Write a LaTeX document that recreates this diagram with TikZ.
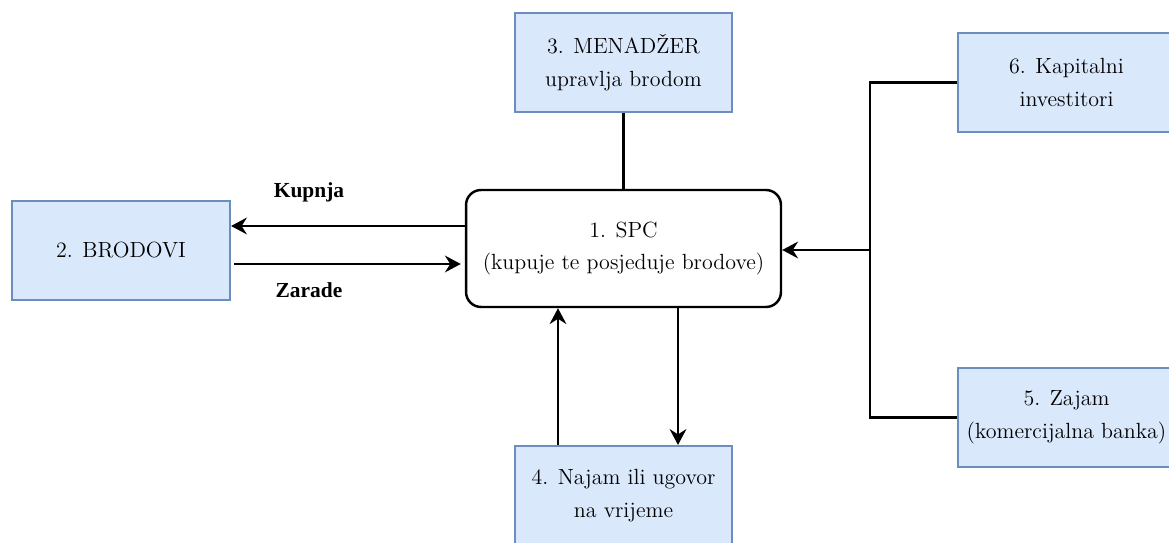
\documentclass[tikz,border=0pt]{standalone}
\usepackage{fontspec}
\newfontfamily\lsf{Liberation Serif}
\usetikzlibrary{arrows.meta}
\definecolor{boxfill}{HTML}{DAE8FC}
\definecolor{boxline}{HTML}{6C8EBF}
\tikzset{
  bluebox/.style={draw=boxline, fill=boxfill, line width=1.2pt, minimum width=4.34cm, minimum height=1.98cm, align=center, font=\rmfamily\fontsize{12.5}{18.5}\selectfont, inner sep=2pt},
  spcbox/.style={draw=black, fill=white, line width=1.4pt, rounded corners=0.3cm, minimum width=6.3cm, minimum height=2.34cm, align=center, font=\rmfamily\fontsize{12.5}{18.5}\selectfont},
  conn/.style={draw=black, line width=1.6pt},
  arr/.style={conn, -{Stealth[length=9pt, width=9.5pt, inset=3pt]}},
  lbl/.style={font=\lsf\bfseries\fontsize{12.2}{14}\selectfont, inner sep=0pt}
}
\begin{document}
\begin{tikzpicture}[x=0.02cm, y=-0.02cm]
\clip (0,0) rectangle (1169,543);
\fill[white] (0,0) rectangle (1169,543);
\node[bluebox, minimum width=4.36cm] (b2) at (121,250.5) {2. BRODOVI};
\node[bluebox] (b3) at (623.5,62.5) {3. MENADŽER\\upravlja brodom};
\node[spcbox] (spc) at (623.5,248.5) {1. SPC\\(kupuje te posjeduje brodove)};
\node[bluebox] (b6) at (1066.5,82.5) {6. Kapitalni\\investitori};
\node[bluebox] (b5) at (1066.5,417.5) {5. Zajam\\(komercijalna banka)};
\node[bluebox] (b4) at (623.5,495.5) {4. Najam ili ugovor\\na vrijeme};
\node[lbl] (kupnja) at (309,192) {Kupnja};
\node[lbl] (zarade) at (309,290) {Zarade};
\coordinate (j) at (870,250);
\draw[arr] (spc.west |- 0,226) -- (b2.east |- 0,226);
\draw[arr] ([xshift=0.06cm]b2.east |- 0,264) -- ([xshift=-0.08cm]spc.west |- 0,264);
\draw[conn] (b3.south) -- (b3.south |- spc.north);
\draw[conn] (b6.west) -| (j);
\draw[conn] (b5.west) -| (j);
\draw[arr] (j) -- (spc.east |- j);
\draw[arr] (b4.north -| 558,0) -- (spc.south -| 558,0);
\draw[arr] (spc.south -| 678,0) -- (b4.north -| 678,0);
\end{tikzpicture}
\end{document}
